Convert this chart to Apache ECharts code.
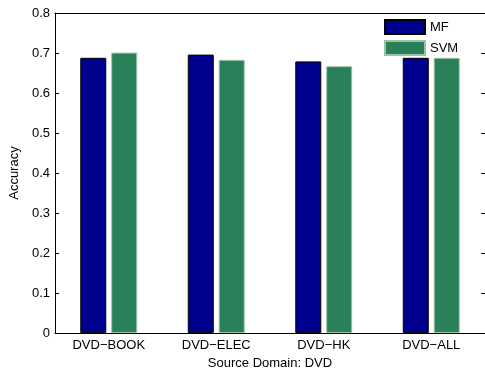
<!DOCTYPE html>
<html>
<head>
<meta charset="utf-8">
<script src="https://cdn.jsdelivr.net/npm/echarts@6/dist/echarts.min.js"></script>
<style>
  html, body { margin: 0; padding: 0; background: #fff; }
  #chart { width: 485px; height: 375px; }
</style>
</head>
<body>
<div id="chart"></div>
<script>
// data
const categories = ['DVD\u2212BOOK', 'DVD\u2212ELEC', 'DVD\u2212HK', 'DVD\u2212ALL'];
const mfValues = [0.688, 0.696, 0.679, 0.688];
const svmValues = [0.701, 0.683, 0.667, 0.688];
const seriesNames = ['MF', 'SVM'];

const font = 'Liberation Sans, Arial, sans-serif';

function initChart() {
  const chart = echarts.init(document.getElementById('chart'));
  chart.setOption({
    animation: false,
    color: ['#00008F', '#2A8059'],
    textStyle: { fontFamily: font, color: '#000' },
    grid: {
      left: 55,
      top: 13,
      width: 432,
      height: 322
    },
    legend: {
      orient: 'vertical',
      left: 384,
      top: 19,
      padding: 0,
      itemWidth: 40,
      itemHeight: 14,
      itemGap: 5,
      icon: 'rect',
      data: seriesNames,
      textStyle: { fontFamily: font, fontSize: 13, color: '#000' }
    },
    xAxis: [{
      type: 'category',
      data: categories,
      name: 'Source Domain: DVD',
      nameLocation: 'middle',
      nameGap: 22,
      nameTextStyle: { fontFamily: font, fontSize: 13, color: '#000' },
      axisLine: { onZero: false, lineStyle: { color: '#000', width: 1 } },
      axisTick: { inside: true, alignWithLabel: true, length: 4, lineStyle: { color: '#000' } },
      axisLabel: { fontFamily: font, fontSize: 13, color: '#000', margin: 6, interval: 0 }
    }, {
      // top box edge
      type: 'category',
      data: categories,
      position: 'top',
      axisLine: { show: true, onZero: false, lineStyle: { color: '#000', width: 1 } },
      axisTick: { inside: true, alignWithLabel: true, length: 4, lineStyle: { color: '#000' } },
      axisLabel: { show: false }
    }],
    yAxis: [{
      type: 'value',
      min: 0,
      max: 0.8,
      interval: 0.1,
      name: 'Accuracy',
      nameLocation: 'middle',
      nameGap: 22,
      nameTextStyle: { fontFamily: font, fontSize: 13, color: '#000' },
      axisLine: { show: true, lineStyle: { color: '#000', width: 1 } },
      axisTick: { show: true, inside: true, length: 4, lineStyle: { color: '#000' } },
      axisLabel: { fontFamily: font, fontSize: 13, color: '#000', margin: 5 },
      splitLine: { show: false }
    }, {
      // right box edge
      type: 'value',
      min: 0,
      max: 0.8,
      interval: 0.1,
      position: 'right',
      axisLine: { show: true, lineStyle: { color: '#000', width: 1 } },
      axisTick: { show: true, inside: true, length: 4, lineStyle: { color: '#000' } },
      axisLabel: { show: false },
      splitLine: { show: false }
    }],
    series: [{
      name: seriesNames[0],
      type: 'bar',
      data: mfValues,
      barWidth: 26,
      barGap: '19%',
      itemStyle: { borderColor: '#000', borderWidth: 1 }
    }, {
      name: seriesNames[1],
      type: 'bar',
      data: svmValues,
      barWidth: 26,
      itemStyle: { borderColor: '#9cc2ab', borderWidth: 1 }
    }]
  });
}

initChart();
</script>
</body>
</html>
